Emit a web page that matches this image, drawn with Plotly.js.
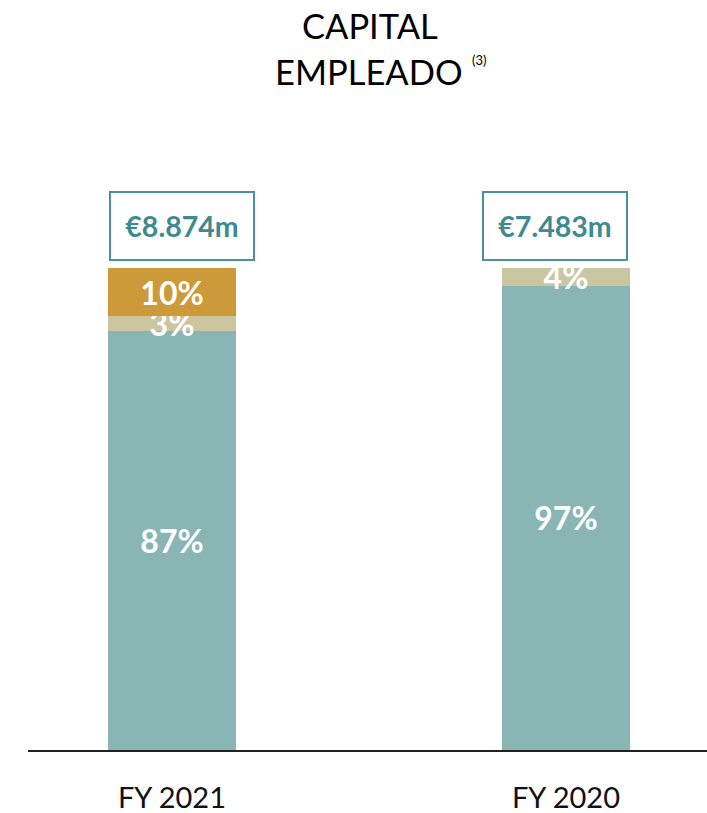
<!DOCTYPE html>
<html><head><meta charset="utf-8">
<script src="https://cdn.plot.ly/plotly-3.0.1.min.js"></script>
<style>html,body{margin:0;padding:0;background:#fff}</style>
</head><body>
<div id="chart" style="width:707px;height:813px"></div>
<script>
const categories = ['FY 2021', 'FY 2020'];
const seriesTeal = [87, 96.3];
const seriesBeige = [3, 3.7];
const seriesGold = [10, null];
const labelsTeal = ['87%', '97%'];
const labelsBeige = ['3%', '4%'];
const labelsGold = ['10%', null];
const totals = ['€8.874m', '€7.483m'];
const titleLines = ['CAPITAL', 'EMPLEADO', '(3)'];

const fontFam = 'Lato, "Liberation Sans", sans-serif';
const common = {
  type: 'bar', x: categories, width: 0.327,
  textposition: 'inside', insidetextanchor: 'middle', constraintext: 'none',
  textfont: {family: fontFam, size: 32, color: '#ffffff', weight: 'bold'},
  hoverinfo: 'none', showlegend: false
};
const data = [
  Object.assign({}, common, {y: seriesTeal, text: labelsTeal, marker: {color: '#8ab5b5'}}),
  Object.assign({}, common, {y: seriesBeige, text: labelsBeige, marker: {color: '#cbc5a2'}}),
  Object.assign({}, common, {x: [categories[0]], y: [seriesGold[0]], text: [labelsGold[0]], marker: {color: '#cd9a3a'}})
];
const boxShift = [10, -11];
const annotations = categories.map((c, i) => ({
  x: c, y: 100, xref: 'x', yref: 'y', yanchor: 'bottom', xanchor: 'center',
  xshift: boxShift[i], yshift: 7, showarrow: false,
  text: '<b>' + totals[i] + '</b>',
  font: {family: fontFam, size: 28.5, color: '#3e8a90'},
  bordercolor: '#4a9298', borderwidth: 2, width: 140, height: 64,
  bgcolor: '#ffffff'
}));
annotations.push({
  x: 0.5037, y: 1.1108, xref: 'paper', yref: 'paper', xanchor: 'center', yanchor: 'middle',
  yshift: 2, showarrow: false, text: titleLines[0], font: {family: fontFam, size: 34.5, color: '#000000'}
});
annotations.push({
  x: 0.3608, y: 1.0338, xref: 'paper', yref: 'paper', xanchor: 'left', yanchor: 'middle',
  yshift: 7, showarrow: false, text: titleLines[1], font: {family: fontFam, size: 34.5, color: '#000000'}
});
annotations.push({
  x: 0.651, y: 1.0338, xref: 'paper', yref: 'paper', xanchor: 'left', yanchor: 'middle',
  yshift: 18, showarrow: false, text: titleLines[2], font: {family: fontFam, size: 13, color: '#000000'}
});
const layout = {
  width: 707, height: 813,
  margin: {l: 28, r: 0, t: 100, b: 63},
  barmode: 'stack',
  paper_bgcolor: '#ffffff', plot_bgcolor: '#ffffff',
  xaxis: {range: [-0.3655, 1.358], showline: true, linecolor: '#222222', linewidth: 1.5,
    ticks: '', tickfont: {family: fontFam, size: 29, color: '#111111'}, ticklabelstandoff: 22,
    showgrid: false, zeroline: false, fixedrange: true},
  yaxis: {range: [0, 134.85], visible: false, showgrid: false, zeroline: false, fixedrange: true},
  annotations: annotations
};
Plotly.newPlot('chart', data, layout, {displayModeBar: false, staticPlot: true});
</script>
</body></html>
